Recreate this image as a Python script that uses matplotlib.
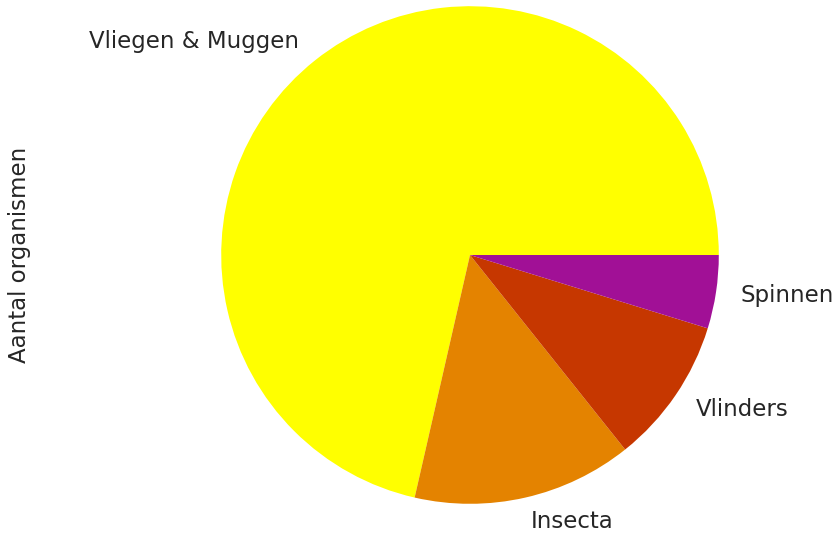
import numpy as np
import matplotlib.pyplot as plt
from matplotlib import cm

categories = ['Vliegen & Muggen', 'Insecta', 'Vlinders', 'Spinnen']
counts = [15, 3, 2, 1]

colors = cm.gnuplot([1.0, 0.8, 0.6, 0.4])
txt = '#262626'

fig = plt.figure(figsize=(8.39, 5.37), dpi=100)
# axes placed so the pie sits where it does in the reference
ax = fig.add_axes([159 / 839, -29 / 537, 622 / 839, 622 / 537])
ax.pie(counts, labels=categories, colors=colors,
       textprops={'fontsize': 16.5, 'color': txt})
ax.set_aspect('equal')
ax.set_ylabel('Aantal organismen', fontsize=16.5, color=txt)
ax.yaxis.set_label_coords(-0.206, 0.5)

fig.savefig('out.png', dpi=100)
